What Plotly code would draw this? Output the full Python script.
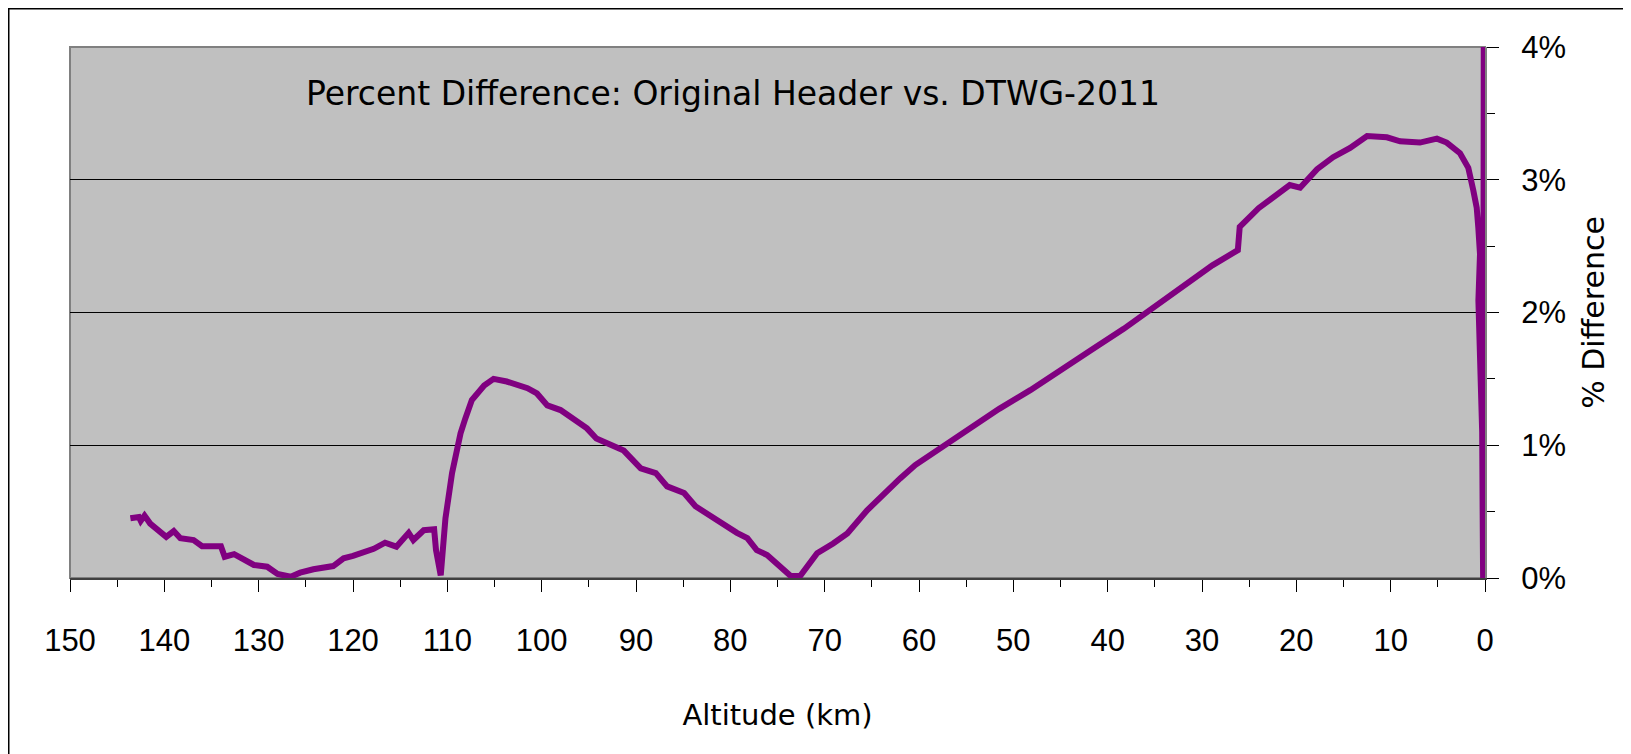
import plotly.graph_objects as go

# Altitude (km) and percent difference (%)
altitude_km = [
    143.6, 142.7, 142.5, 142.1, 141.5, 140.6, 139.8, 139.0, 138.3, 136.9,
    136.0, 134.0, 133.6, 132.6, 131.6, 130.5, 129.1, 128.0, 126.6, 125.6,
    124.2, 122.1, 121.0, 120.0, 117.8, 116.6, 115.4, 114.1, 113.6, 112.5,
    111.4, 111.2, 110.7, 110.2, 109.5, 108.6, 108.1, 107.4, 106.1, 105.1,
    103.7, 101.5, 100.5, 99.4, 98.0, 95.2, 94.2, 93.1, 91.3, 89.5,
    87.9, 86.7, 84.9, 83.7, 81.8, 80.2, 79.3, 78.2, 77.2, 76.1,
    75.1, 73.6, 72.6, 70.8, 69.1, 67.6, 65.5, 63.7, 62.0, 60.4,
    57.6, 54.8, 51.5, 48.2, 44.9, 41.7, 38.3, 35.0, 31.7, 28.9,
    26.2, 26.0, 24.0, 20.7, 19.6, 17.8, 16.1, 14.3, 12.5, 10.4,
    9.0, 6.9, 5.1, 4.06, 2.65, 1.77, 1.24, 0.88, 0.71, 0.53,
    0.70, 0.55, 0.45, 0.30, 0.25, 0.20, 0.10,
]
pct_diff = [
    0.45, 0.46, 0.43, 0.47, 0.41, 0.36, 0.31, 0.354, 0.30, 0.286,
    0.24, 0.24, 0.16, 0.18, 0.136, 0.098, 0.085, 0.03, 0.01, 0.04,
    0.066, 0.09, 0.148, 0.166, 0.22, 0.266, 0.236, 0.34, 0.286, 0.36,
    0.367, 0.21, 0.02, 0.45, 0.79, 1.09, 1.20, 1.34, 1.45, 1.50,
    1.48, 1.43, 1.39, 1.30, 1.265, 1.127, 1.05, 1.02, 0.96, 0.826,
    0.79, 0.69, 0.64, 0.54, 0.45, 0.386, 0.34, 0.30, 0.21, 0.173,
    0.11, 0.015, 0.015, 0.186, 0.26, 0.336, 0.51, 0.64, 0.75, 0.851,
    0.984, 1.117, 1.274, 1.415, 1.564, 1.72, 1.877, 2.04, 2.206, 2.355,
    2.47, 2.645, 2.786, 2.96, 2.94, 3.08, 3.17, 3.24, 3.33, 3.32,
    3.29, 3.28, 3.31, 3.28, 3.20, 3.09, 2.92, 2.79, 2.64, 2.44,
    2.09, 1.70, 1.35, 1.10, 0.50, 0.0, 6.0,
]

x_ticks = list(range(0, 151, 10))
y_ticks = [0, 1, 2, 3, 4]
y_tick_labels = ["0%", "1%", "2%", "3%", "4%"]

TICK_FONT = "Liberation Sans"
TEXT_FONT = "DejaVu Sans"
PURPLE = "#800080"

# the page adds an 8px body margin, so the figure is laid out 8px smaller
W, H = 1623, 746
L, T = 62, 39
R = W - 1477
B = H - 570
PW, PH = W - L - R, H - T - B

fig = go.Figure()
fig.add_trace(go.Scatter(
    x=altitude_km, y=pct_diff, mode="lines",
    line=dict(color=PURPLE, width=6),
    showlegend=False, hoverinfo="skip",
))

fig.update_layout(
    width=W, height=H,
    margin=dict(l=L, r=R, t=T, b=B),
    paper_bgcolor="white",
    plot_bgcolor="#C0C0C0",
    font=dict(family=TEXT_FONT, color="black", size=30),
    title=dict(
        text="Percent Difference: Original Header vs. DTWG-2011",
        x=(725 - L) / PW, xanchor="center", xref="paper",
        y=1 - 85 / H, yanchor="middle",
        font=dict(family=TEXT_FONT, size=33, color="black"),
    ),
    xaxis=dict(
        range=[150, 0], tickmode="array", tickvals=x_ticks,
        ticks="outside", ticklen=12, tickwidth=1, tickcolor="black",
        minor=dict(dtick=5, ticks="outside", ticklen=7, tickcolor="black", tickwidth=1),
        showgrid=False, zeroline=False,
        showline=True, linecolor="#404040", linewidth=2,
        tickfont=dict(family=TICK_FONT, size=31), ticklabelstandoff=22,
        title=dict(text="Altitude (km)", font=dict(family=TEXT_FONT, size=29), standoff=47),
    ),
    xaxis2=dict(
        range=[150, 0], overlaying="x", side="bottom", anchor="y",
        tickmode="array", tickvals=x_ticks,
        ticks="inside", ticklen=12, tickwidth=1, tickcolor="black",
        showticklabels=False, showgrid=False, zeroline=False, showline=False,
    ),
    yaxis=dict(
        range=[0, 4], side="right", tickmode="array", tickvals=y_ticks,
        ticktext=y_tick_labels,
        ticks="outside", ticklen=12, tickwidth=1, tickcolor="black",
        minor=dict(dtick=0.5, ticks="outside", ticklen=8, tickcolor="black", tickwidth=1),
        showgrid=True, gridcolor="black", gridwidth=1, zeroline=False,
        showline=True, linecolor="#808080", linewidth=2,
        tickfont=dict(family=TICK_FONT, size=31), ticklabelstandoff=16,
        title=dict(text="% Difference", font=dict(family=TEXT_FONT, size=30), standoff=18),
    ),
    yaxis2=dict(
        range=[0, 4], overlaying="y", side="right", anchor="x",
        tickmode="array", tickvals=y_ticks,
        ticks="inside", ticklen=12, tickwidth=1, tickcolor="black",
        showticklabels=False, showgrid=False, zeroline=False, showline=False,
    ),
    shapes=[
        dict(type="rect", xref="x domain", yref="y domain", x0=0, x1=1, y0=0, y1=1,
             line=dict(color="#808080", width=2), layer="below"),
        dict(type="rect", xref="paper", yref="paper",
             x0=(0.5 - L) / PW, x1=1.3, y0=-0.5, y1=(H - B - 0.5) / PH,
             line=dict(color="black", width=2), layer="above"),
    ],
)

fig.write_html("out.html")
